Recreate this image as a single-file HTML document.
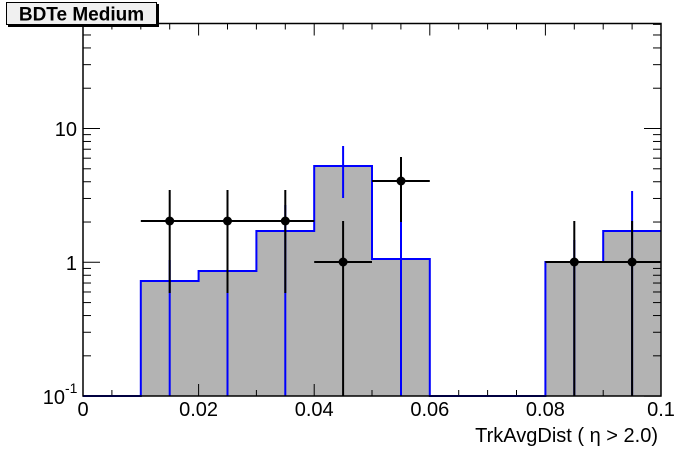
<!DOCTYPE html>
<html><head><meta charset="utf-8"><style>
html,body{margin:0;padding:0;background:#fff;}
svg{display:block;font-family:"Liberation Sans",Arial,sans-serif;}
</style></head><body>
<svg id="s" width="696" height="472" viewBox="0 0 696 472" xmlns="http://www.w3.org/2000/svg">
<rect width="696" height="472" fill="#fff"/>
<path d="M83,396 H140.8 V281 H198.6 V271 H256.4 V231 H314.2 V166 H372 V259 H429.8 V396 Z" fill="#b3b3b3"/>
<path d="M545.4,396 V262 H603.2 V231 H661 V396 Z" fill="#b3b3b3"/>
<g id="ticks" stroke="#000" stroke-width="1"></g>
<path d="M83,396 H140.8 V281 H198.6 V271 H256.4 V231 H314.2 V166 H372 V259 H429.8 V396 H545.4 V262 H603.2 V231 H661" fill="none" stroke="#0000ff" stroke-width="2"/>
<g stroke="#0000ff" stroke-width="2">
<line x1="169.7" y1="396" x2="169.7" y2="260"/>
<line x1="227.5" y1="396" x2="227.5" y2="255"/>
<line x1="285.3" y1="396" x2="285.3" y2="205"/>
<line x1="343.1" y1="146" x2="343.1" y2="198"/>
<line x1="401" y1="396" x2="401" y2="222"/>
<line x1="574.3" y1="396" x2="574.3" y2="240"/>
<line x1="632.1" y1="396" x2="632.1" y2="191"/>
</g>
<g stroke="#000" stroke-width="2">
<line x1="140.8" y1="221" x2="314.2" y2="221"/>
<line x1="169.7" y1="190" x2="169.7" y2="293"/>
<line x1="227.5" y1="190" x2="227.5" y2="293"/>
<line x1="285.3" y1="190" x2="285.3" y2="293"/>
<line x1="314.2" y1="262" x2="372" y2="262"/>
<line x1="343.1" y1="221" x2="343.1" y2="396"/>
<line x1="372" y1="181" x2="429.8" y2="181"/>
<line x1="401" y1="157" x2="401" y2="222"/>
<line x1="545.4" y1="262" x2="661" y2="262"/>
<line x1="574.3" y1="221" x2="574.3" y2="396"/>
<line x1="632.1" y1="221" x2="632.1" y2="396"/>
</g>
<g fill="#000">
<circle cx="169.7" cy="221" r="4.5"/><circle cx="227.5" cy="221" r="4.5"/><circle cx="285.3" cy="221" r="4.5"/>
<circle cx="343.1" cy="262" r="4.5"/><circle cx="401" cy="181" r="4.5"/>
<circle cx="574.3" cy="262" r="4.5"/><circle cx="632.1" cy="262" r="4.5"/>
</g>
<rect x="83" y="23.5" width="578" height="372.5" fill="none" stroke="#000" stroke-width="1.5"/>
<g font-size="20" fill="#000" text-anchor="middle">
<text x="83" y="416">0</text>
<text x="198.6" y="416">0.02</text>
<text x="314.2" y="416">0.04</text>
<text x="429.8" y="416">0.06</text>
<text x="545.4" y="416">0.08</text>
<text x="661" y="416">0.1</text>
</g>
<g font-size="20" fill="#000" text-anchor="end">
<text x="77" y="136">10</text>
<text x="77" y="270">1</text>
<text x="65" y="404">10</text>
</g>
<text x="65" y="393" font-size="14" fill="#000">-1</text>
<text x="658" y="442" font-size="20" fill="#000" text-anchor="end">TrkAvgDist ( η &gt; 2.0)</text>
<rect x="8" y="4" width="151" height="23" fill="#000"/>
<rect x="6.5" y="2.5" width="150" height="22" fill="#f0f0f0" stroke="#000" stroke-width="1"/>
<text x="81.5" y="20.5" font-size="19" font-weight="bold" text-anchor="middle" fill="#000">BDTe Medium</text>
</svg>
<script>
(function(){
var g=document.getElementById('ticks'),ns='http://www.w3.org/2000/svg';
function L(x1,y1,x2,y2){var l=document.createElementNS(ns,'line');l.setAttribute('x1',x1);l.setAttribute('y1',y1);l.setAttribute('x2',x2);l.setAttribute('y2',y2);g.appendChild(l);}
for(var i=0;i<=20;i++){var x=83+i*0.005*5780;var len=(i%4==0)?12:6;L(x,396,x,396-len);L(x,23.5,x,23.5+len);}
for(var k=-1;k<=1;k++){for(var m=1;m<=9;m++){var v=m*Math.pow(10,k);var y=262.3-133.8*Math.log10(v);if(y<24)continue;var len=(m==1)?17:8;L(83,y,83+len,y);L(661,y,661-len,y);}}
})();
</script>
</body></html>
